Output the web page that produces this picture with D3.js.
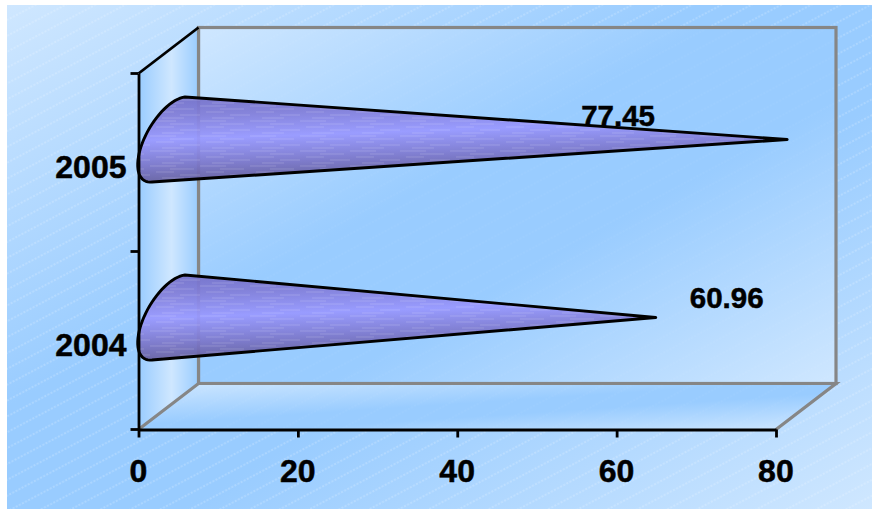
<!DOCTYPE html>
<html><head><meta charset="utf-8">
<script src="https://cdn.jsdelivr.net/npm/d3@7"></script>
<style>html,body{margin:0;padding:0;background:#fff}svg{display:block}</style></head>
<body><svg id="c" width="872" height="509"></svg>
<script>
const categories = ["2004", "2005"];
const values = [60.96, 77.45];
const valueLabels = ["60.96", "77.45"];
const xTicks = [0, 20, 40, 60, 80];

const W = 872, H = 509;
const left = 138.5, right = 776, top_ = 73.5, bottom = 429.5;
const depthX = 60, depthY = 46;
const labelDx = [102.4, -137.6], labelDy = [-32.5, -36.5];
const boldStroke = 0.5;

const svg = d3.select("#c");
const x = d3.scaleLinear().domain([0, 80]).range([left, right]);
const y = d3.scaleBand().domain(categories).range([bottom, top_]);
const defs = svg.append("defs");

function grad(id, a, b, stops, units) {
  const g = defs.append("linearGradient").attr("id", id).attr("gradientUnits", units || "userSpaceOnUse")
    .attr("x1", a[0]).attr("y1", a[1]).attr("x2", b[0]).attr("y2", b[1]);
  stops.forEach(s => g.append("stop").attr("offset", s[0]).attr("stop-color", s[1]));
}
const light = "#cfe7ff", mid = "#99ccff";
const diag = [[0, light], [0.4, mid], [0.6, mid], [1, light]];
grad("bg", [0, 0], [1, 1], diag, "objectBoundingBox");
grad("wall", [0, 0], [1, 1], diag, "objectBoundingBox");
grad("side", [left, 0], [left + depthX, 0], [[0, "#99ccff"], [0.55, "#cfe7ff"], [1, "#99ccff"]]);
grad("floor", [0, 0], [1, 1], [[0, light], [0.45, mid], [0.6, mid], [1, light]], "objectBoundingBox");

function hatchPattern(id, op) {
  const hatch = defs.append("pattern").attr("id", id).attr("patternUnits", "userSpaceOnUse")
    .attr("width", 14).attr("height", 14).attr("patternTransform", "rotate(-28)");
  hatch.append("line").attr("x1", 0).attr("x2", 14).attr("y1", 7).attr("y2", 7)
    .attr("stroke", "#fff").attr("stroke-opacity", op).attr("stroke-width", 0.9).attr("stroke-dasharray", "2 1.5");
}
hatchPattern("hatch", 0.42);
hatchPattern("hatchFaint", 0.08);
const coneLines = defs.append("pattern").attr("id", "coneLines").attr("patternUnits", "userSpaceOnUse")
  .attr("width", 50).attr("height", 15);
[[1, 0, 26], [4, 20, 44], [7, 6, 24], [10, 30, 50], [13, 12, 34]].forEach(r => {
  coneLines.append("line").attr("x1", r[1]).attr("x2", r[2]).attr("y1", r[0]).attr("y2", r[0])
    .attr("stroke", "#fff").attr("stroke-opacity", 0.16).attr("stroke-width", 1);
});

svg.append("rect").attr("x", 7).attr("y", 5).attr("width", W - 7).attr("height", H - 5).attr("fill", "url(#bg)");
svg.append("rect").attr("x", 7).attr("y", 5).attr("width", W - 7).attr("height", H - 5).attr("fill", "url(#hatch)");

const pts = a => a.map(p => p.join(",")).join(" ");
const grey = "#868686";
const bold = s => s.attr("font-family", "Liberation Sans").attr("font-weight", 700).attr("fill", "#000")
  .attr("stroke", "#000").attr("stroke-width", boldStroke);
// back wall, side wall, floor
const wallRect = g => g.attr("x", left + depthX).attr("y", top_ - depthY).attr("width", right - left).attr("height", bottom - top_);
svg.append("rect").call(wallRect).attr("fill", "url(#wall)");
svg.append("rect").call(wallRect).attr("fill", "url(#hatchFaint)").attr("stroke", grey).attr("stroke-width", 3.2);
svg.append("polygon").attr("points", pts([[left, top_], [left + depthX, top_ - depthY], [left + depthX, bottom - depthY], [left, bottom]]))
  .attr("fill", "url(#side)");
const floorPts = pts([[left, bottom], [left + depthX, bottom - depthY], [right + depthX, bottom - depthY], [right, bottom]]);
svg.append("polygon").attr("points", floorPts).attr("fill", "url(#floor)");
svg.append("polygon").attr("points", floorPts).attr("fill", "url(#hatchFaint)");
svg.append("path").attr("fill", "none").attr("stroke", grey).attr("stroke-width", 3.2)
  .attr("d", `M${left},${bottom}L${left + depthX},${bottom - depthY}H${right + depthX}L${right},${bottom}`);
svg.append("line").attr("x1", left + depthX).attr("x2", left + depthX).attr("y1", top_ - depthY).attr("y2", bottom - depthY)
  .attr("stroke", grey).attr("stroke-width", 3.2);
svg.append("line").attr("x1", left).attr("y1", top_).attr("x2", left + depthX).attr("y2", top_ - depthY)
  .attr("stroke", "#000").attr("stroke-width", 2.8);

// value labels sit behind the cones
categories.forEach((c, i) => {
  svg.append("text").attr("x", x(values[i]) + labelDx[i]).attr("y", y(c) + y.bandwidth() / 2 + labelDy[i])
    .attr("text-anchor", "middle").attr("font-size", 29.5).call(bold)
    .text(valueLabels[i]);
});

// cones
const line = d3.line();
categories.forEach((c, i) => {
  const cx = x(0) + depthX / 2, cy = y(c) + y.bandwidth() / 2 - depthY / 2;
  const tip = [x(values[i]) + depthX / 2 + 1.5, cy];
  const u = [16.5, -42.5], v = [-26, 3];
  const arc = d3.range(0, 181, 5).map(d => {
    const t = d * Math.PI / 180;
    return [cx + u[0] * Math.cos(t) + v[0] * Math.sin(t), cy + u[1] * Math.cos(t) + v[1] * Math.sin(t)];
  });
  const d = line([tip, ...arc]) + "Z";
  const id = "cone" + i;
  grad(id, [cx, cy - 43], [cx + 3, cy + 43], [[0, "#7470c8"], [0.22, "#827ed8"], [0.5, "#9999ff"], [0.8, "#7b76c8"], [1, "#66609f"]]);
  const g = svg.append("g");
  g.append("path").attr("d", d).attr("fill", `url(#${id})`).attr("fill-opacity", 0.94);
  g.append("path").attr("d", d).attr("fill", "url(#coneLines)");
  g.append("path").attr("d", d).attr("fill", "none").attr("stroke", "#000").attr("stroke-width", 2.9).attr("stroke-linejoin", "round");
});

// axes
const xAxis = d3.axisBottom(x).tickValues(xTicks).tickSize(8).tickPadding(21.5).tickSizeOuter(0);
const gx = svg.append("g").attr("transform", `translate(0,${bottom})`).call(xAxis);
gx.selectAll("path,line").attr("stroke", "#000").attr("stroke-width", 2.8);
gx.selectAll("text").attr("font-size", 32).call(bold).attr("dx", -0.6);
const yAxis = d3.axisLeft(y).tickSize(0).tickPadding(12);
const gy = svg.append("g").attr("transform", `translate(${left},0)`).call(yAxis);
gy.select("path").attr("stroke", "#000").attr("stroke-width", 2.8);
gy.selectAll("text").attr("font-size", 32).call(bold).attr("dy", "0.48em");
const edges = [...categories.map(c => y(c) + y.bandwidth()), y(categories[categories.length - 1])];
gy.selectAll("line.edge").data(edges).join("line").attr("class", "edge")
  .attr("x1", -8).attr("x2", 0).attr("y1", d => d).attr("y2", d => d).attr("stroke", "#000").attr("stroke-width", 2.8);
</script></body></html>
